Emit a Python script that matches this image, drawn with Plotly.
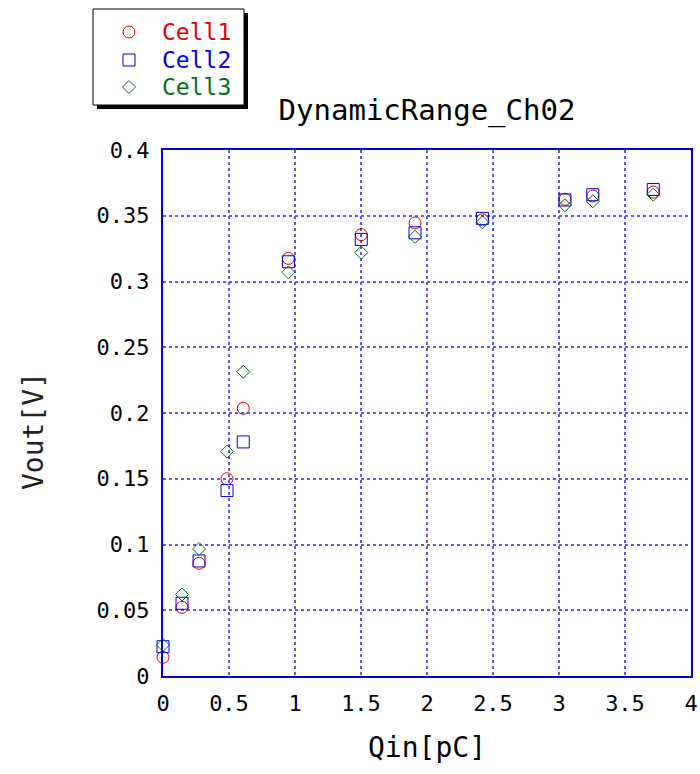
import plotly.graph_objects as go

# Injected charge [pC]
qin = [0, 0.144, 0.273, 0.485, 0.608, 0.95, 1.502, 1.909, 2.42, 3.045, 3.256, 3.714]

# Output voltage [V] per cell
cell1 = [0.0142, 0.0522, 0.0857, 0.150, 0.2036, 0.3176, 0.3356, 0.3445, 0.3468, 0.3625, 0.365, 0.368]
cell2 = [0.0223, 0.0553, 0.0875, 0.141, 0.178, 0.315, 0.332, 0.337, 0.348, 0.362, 0.366, 0.370]
cell3 = [0.0236, 0.062, 0.0966, 0.1706, 0.2314, 0.307, 0.322, 0.334, 0.345, 0.358, 0.361, 0.366]

series_names = ["Cell1", "Cell2", "Cell3"]
series_colors = ["#e60000", "#0000e0", "#00701a"]
series_symbols = ["circle-open", "square-open", "diamond-open"]
series_sizes = [12, 12, 10]

FONT = "DejaVu Sans Mono"
GRID = "#5c5ce8"
FRAME = "#0000dd"

W, H = 700, 774
L, R, T, B = 163, 9, 150, 98
PW, PH = W - L - R, H - T - B


def px_x(p):
    return (p - L) / PW


def px_y(p):
    return (H - B - p) / PH


fig = go.Figure()
for name, ys, col, sym, sz in zip(series_names, [cell1, cell2, cell3],
                                  series_colors, series_symbols, series_sizes):
    fig.add_trace(go.Scatter(
        x=qin, y=ys, mode="markers", name=name,
        marker=dict(symbol=sym, size=sz, color=col, line=dict(width=1, color=col)),
        cliponaxis=False, showlegend=False,
    ))

# ---- boxed legend with drop shadow, placed in the top-left margin ----
box_l, box_t, box_r, box_b = 93, 9, 244, 105
shadow = 4
fig.add_shape(type="rect", xref="paper", yref="paper",
              x0=px_x(box_l + shadow), x1=px_x(box_r + shadow),
              y0=px_y(box_b + shadow), y1=px_y(box_t + shadow),
              fillcolor="black", line=dict(width=0), layer="above")
fig.add_shape(type="rect", xref="paper", yref="paper",
              x0=px_x(box_l), x1=px_x(box_r), y0=px_y(box_b), y1=px_y(box_t),
              fillcolor="white", line=dict(width=1, color="black"), layer="above")

sym_x, text_x = 129, 160
row_y = [32, 60, 87]
r = 6
for name, col, sym, yc in zip(series_names, series_colors, series_symbols, row_y):
    if sym.startswith("circle"):
        fig.add_shape(type="circle", xref="paper", yref="paper",
                      x0=px_x(sym_x - r), x1=px_x(sym_x + r),
                      y0=px_y(yc + r), y1=px_y(yc - r),
                      line=dict(width=1, color=col), layer="above")
    elif sym.startswith("square"):
        fig.add_shape(type="rect", xref="paper", yref="paper",
                      x0=px_x(sym_x - r), x1=px_x(sym_x + r),
                      y0=px_y(yc + r), y1=px_y(yc - r),
                      line=dict(width=1, color=col), layer="above")
    else:
        d = 6.5
        path = (f"M {px_x(sym_x - d)} {px_y(yc)} L {px_x(sym_x)} {px_y(yc - d)} "
                f"L {px_x(sym_x + d)} {px_y(yc)} L {px_x(sym_x)} {px_y(yc + d)} Z")
        fig.add_shape(type="path", xref="paper", yref="paper", path=path,
                      line=dict(width=1, color=col), layer="above")
    fig.add_annotation(x=px_x(text_x), y=px_y(yc), xref="paper", yref="paper",
                       xanchor="left", yanchor="middle", showarrow=False,
                       text=name, font=dict(family=FONT, size=23, color=col))

axis_common = dict(
    showgrid=True, gridcolor=GRID, gridwidth=2, griddash="dot",
    showline=True, linecolor=FRAME, linewidth=2, mirror=True,
    zeroline=False, ticks="", automargin=False, ticklabelstandoff=7,
    tickfont=dict(family=FONT, size=22, color="black"),
)

fig.update_xaxes(range=[0, 4], dtick=0.5, tick0=0,
                 title=dict(text="Qin[pC]", font=dict(family=FONT, size=28, color="black"),
                            standoff=22),
                 **axis_common)
fig.update_yaxes(range=[0, 0.4], dtick=0.05, tick0=0, **axis_common)

# y-axis title, rotated, in the left margin
fig.add_annotation(x=px_x(33), y=px_y(431), xref="paper", yref="paper",
                   xanchor="center", yanchor="middle", showarrow=False, textangle=-90,
                   text="Vout[V]", font=dict(family=FONT, size=28, color="#222"))

fig.update_layout(
    width=W, height=H,
    margin=dict(l=L, r=R, t=T, b=B, pad=0),
    paper_bgcolor="white", plot_bgcolor="white",
    font=dict(family=FONT, color="black"),
    title=dict(text="DynamicRange_Ch02", font=dict(family=FONT, size=29, color="black"),
               x=px_x((L + W - R) / 2), xref="paper", xanchor="center",
               y=(H - 110) / H, yref="container", yanchor="middle"),
    showlegend=False,
)

fig.write_html("out.html")
